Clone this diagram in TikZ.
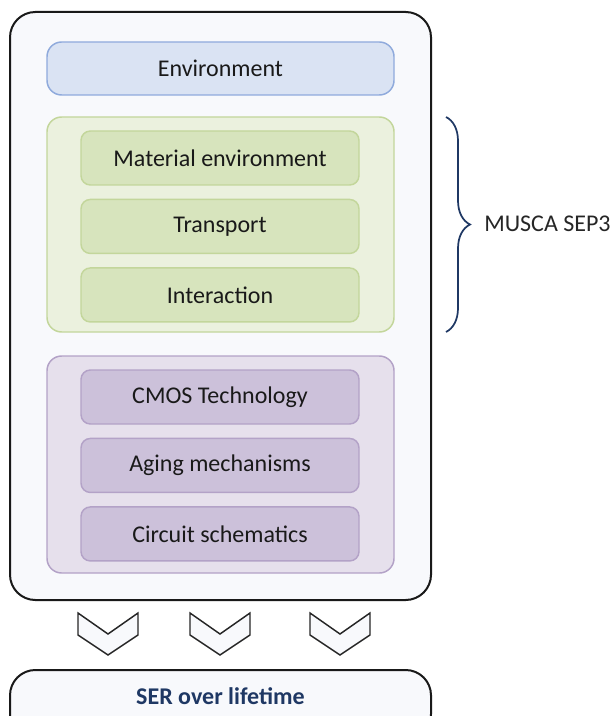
\documentclass[tikz,border=0pt]{standalone}
\usepackage{fontspec}
\setmainfont{Carlito}
\usetikzlibrary{positioning,decorations.pathreplacing}
\definecolor{panelfill}{HTML}{F8F9FC}
\definecolor{envfill}{HTML}{DAE3F3}
\definecolor{envline}{HTML}{8FAADC}
\definecolor{greenfill}{HTML}{EBF1DE}
\definecolor{greenbox}{HTML}{D7E4BD}
\definecolor{greenline}{HTML}{C3D69B}
\definecolor{purplefill}{HTML}{E6E0EC}
\definecolor{purplebox}{HTML}{CCC1DA}
\definecolor{purpleline}{HTML}{B3A2C7}
\definecolor{navy}{HTML}{1F3864}
\tikzset{panel/.style = {draw=black!90, line width=1.5pt, fill=panelfill, rounded corners=19pt}}
\tikzset{group/.style = {draw, line width=1.1pt, rounded corners=11pt, minimum width=260.25pt}}
\tikzset{item/.style = {draw, line width=1.1pt, rounded corners=7pt, minimum width=208.5pt, minimum height=40.5pt, inner sep=0pt, text=black!90, font=\fontsize{18}{21}\selectfont}}
\tikzset{chevron/.style = {draw=black!85, line width=1.1pt, fill=panelfill, line join=miter}}

\begin{document}
\begin{tikzpicture}[x=0.75pt, y=-0.75pt, node distance=9.75pt]
  \useasboundingbox (0,0) rectangle (614,716);
  \node [panel, minimum width=315.75pt, minimum height=441pt] (outer) at (220.5,306) {};
  \node [item, group, draw=envline, fill=envfill, minimum height=39.75pt] (env) at (220.5,68.5) {Environment};

  \node [group, draw=greenline, fill=greenfill, minimum height=161.25pt] (grp1) at (220.5,224.5) {};
  \node [item, draw=greenline, fill=greenbox] (mat) at (220,158) {Material environment};
  \node [item, draw=greenline, fill=greenbox, below=of mat] (trans) {Transport};
  \node [item, draw=greenline, fill=greenbox, below=of trans] (inter) {Interaction};

  \node [group, draw=purpleline, fill=purplefill, minimum height=162.75pt] (grp2) at (220.5,464.5) {};
  \node [item, draw=purpleline, fill=purplebox] (cmos) at (220,397) {CMOS Technology};
  \node [item, draw=purpleline, fill=purplebox, below=of cmos] (aging) {Aging mechanisms};
  \node [item, draw=purpleline, fill=purplebox, below=of aging] (circ) {Circuit schematics};

  \foreach \cx in {108,220,340}
    \draw [chevron] (\cx-30,613) -- (\cx,634) -- (\cx+30,613) -- (\cx+30,635) -- (\cx,655) -- (\cx-30,635) -- cycle;

  \node [panel, minimum width=315.75pt, minimum height=52pt, anchor=north] (ser) at (220.5,669) {};
  \node [text=navy, font=\bfseries\fontsize{18}{21}\selectfont] (serlabel) at (220.5,696) {SER over lifetime};

  \coordinate (btop) at (446,117);
  \coordinate (bbot) at (446,332);
  \draw [navy, line width=1.3pt, decorate, decoration={brace, amplitude=18pt, aspect=0.5}] (btop) -- (bbot);
  \node [anchor=west, text=black!85, font=\fontsize{18}{21}\selectfont, inner sep=0pt] (musca) at (484,224) {MUSCA SEP3};
\end{tikzpicture}
\end{document}
